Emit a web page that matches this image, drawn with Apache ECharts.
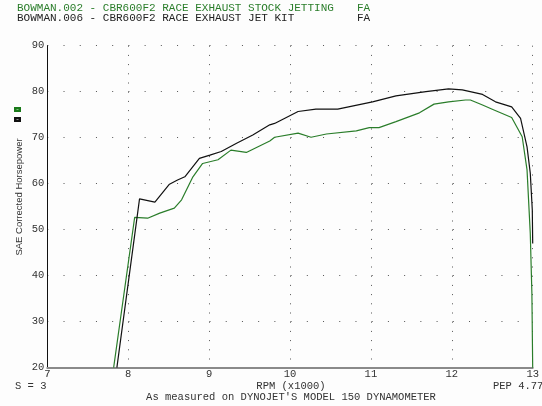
<!DOCTYPE html>
<html>
<head>
<meta charset="utf-8">
<script src="https://cdn.jsdelivr.net/npm/echarts@6/dist/echarts.min.js"></script>
<style>
html,body{margin:0;padding:0;background:#fdfdfd;}
#c{width:542px;height:406px;}
</style>
</head>
<body>
<div id="c"></div>
<script>
// RPM (x1000) and horsepower for each run
const jetKitRpm = [7.86, 8.14, 8.33, 8.39, 8.51, 8.61, 8.70, 8.88, 9.01, 9.15, 9.34, 9.54, 9.75, 9.81, 10.10, 10.32, 10.59, 11.02, 11.31, 11.68, 11.96, 12.13, 12.38, 12.54, 12.74, 12.85, 12.93, 12.97, 12.995, 13.0];
const jetKitHp  = [20.0, 56.7, 56.0, 57.3, 59.9, 60.8, 61.5, 65.5, 66.2, 67.0, 68.8, 70.6, 72.8, 73.1, 75.7, 76.2, 76.2, 77.8, 79.1, 80.0, 80.6, 80.4, 79.4, 77.8, 76.7, 74.2, 68.0, 62.3, 54.3, 47.0];
const stockRpm = [7.82, 8.08, 8.24, 8.39, 8.57, 8.66, 8.80, 8.92, 9.11, 9.27, 9.46, 9.75, 9.81, 10.10, 10.26, 10.45, 10.82, 10.98, 11.10, 11.31, 11.60, 11.78, 11.96, 12.17, 12.23, 12.38, 12.50, 12.74, 12.87, 12.93, 12.97, 12.99, 13.0];
const stockHp  = [20.0, 52.7, 52.5, 53.6, 54.7, 56.5, 61.5, 64.4, 65.2, 67.3, 66.8, 69.3, 70.1, 71.0, 70.1, 70.8, 71.5, 72.2, 72.2, 73.5, 75.4, 77.3, 77.8, 78.2, 78.2, 77.1, 76.2, 74.4, 70.2, 63.0, 49.2, 36.2, 20.0];
const xTicks = [7, 8, 9, 10, 11, 12, 13];
const yTicks = [20, 30, 40, 50, 60, 70, 80, 90];
const titles = ["BOWMAN.002 - CBR600F2 RACE EXHAUST STOCK JETTING", "BOWMAN.006 - CBR600F2 RACE EXHAUST JET KIT"];

const GREEN = '#2a7d2a';
const BLACK = '#111111';
const MONO = '"Liberation Mono", "DejaVu Sans Mono", monospace';

const chart = echarts.init(document.getElementById('c'), null, {renderer: 'canvas'});
const zip = (a, b) => a.map((v, i) => [v, b[i]]);

chart.setOption({
  backgroundColor: '#fdfdfd',
  animation: false,
  grid: {left: 47.3, top: 45.7, right: 7.7, bottom: 38.3, containLabel: false},
  xAxis: {
    type: 'value', min: xTicks[0], max: xTicks[xTicks.length - 1], interval: 1,
    axisLine: {show: true, lineStyle: {color: '#8a8a8a', width: 2}},
    axisTick: {show: false},
    axisLabel: {color: '#333', fontFamily: MONO, fontSize: 10.5, margin: 1},
    splitLine: {show: true, lineStyle: {color: '#555', width: 1, type: [1, 8.2]}}
  },
  yAxis: {
    type: 'value', min: yTicks[0], max: yTicks[yTicks.length - 1], interval: 10,
    axisLine: {show: true, lineStyle: {color: '#111', width: 1}},
    axisTick: {show: false},
    axisLabel: {color: '#333', fontFamily: MONO, fontSize: 10.5, margin: 3},
    splitLine: {show: true, lineStyle: {color: '#555', width: 1, type: [1, 15.22]}}
  },
  series: [
    {type: 'line', name: titles[0], data: zip(stockRpm, stockHp), showSymbol: false, symbol: 'none',
     lineStyle: {color: GREEN, width: 1.2}, clip: true, z: 3},
    {type: 'line', name: titles[1], data: zip(jetKitRpm, jetKitHp), showSymbol: false, symbol: 'none',
     lineStyle: {color: BLACK, width: 1.2}, clip: true, z: 4}
  ],
  graphic: [
    {type: 'text', left: 17, top: 3, style: {text: titles[0], fill: GREEN, font: '11px ' + MONO}},
    {type: 'text', left: 357, top: 3, style: {text: 'FA', fill: GREEN, font: '11px ' + MONO}},
    {type: 'text', left: 17, top: 13, style: {text: titles[1], fill: '#222', font: '11px ' + MONO}},
    {type: 'text', left: 357, top: 13, style: {text: 'FA', fill: '#222', font: '11px ' + MONO}},
    {type: 'rect', shape: {x: 14, y: 107, width: 7, height: 5}, style: {fill: '#1a7a1a'}},
    {type: 'rect', shape: {x: 16.5, y: 109, width: 2, height: 1}, style: {fill: '#7fbf7f'}},
    {type: 'rect', shape: {x: 14, y: 117, width: 7, height: 5}, style: {fill: '#111'}},
    {type: 'rect', shape: {x: 16.5, y: 119, width: 2, height: 1}, style: {fill: '#888'}},
    {type: 'text', x: 19, y: 197, rotation: Math.PI / 2,
     style: {text: 'SAE Corrected Horsepower', fill: '#333', font: '9.5px "Liberation Sans", Arial, sans-serif', align: 'center', verticalAlign: 'middle'}},
    {type: 'text', x: 15, y: 386, style: {text: 'S = 3', fill: '#333', font: '10.5px ' + MONO, align: 'left', verticalAlign: 'middle'}},
    {type: 'text', x: 291, y: 386, style: {text: 'RPM (x1000)', fill: '#333', font: '10.5px ' + MONO, align: 'center', verticalAlign: 'middle'}},
    {type: 'text', x: 493, y: 386, style: {text: 'PEP 4.77E', fill: '#333', font: '10.5px ' + MONO, align: 'left', verticalAlign: 'middle'}},
    {type: 'text', x: 291, y: 397, style: {text: "As measured on DYNOJET'S MODEL 150 DYNAMOMETER", fill: '#333', font: '10.5px ' + MONO, align: 'center', verticalAlign: 'middle'}}
  ]
});
</script>
</body>
</html>
